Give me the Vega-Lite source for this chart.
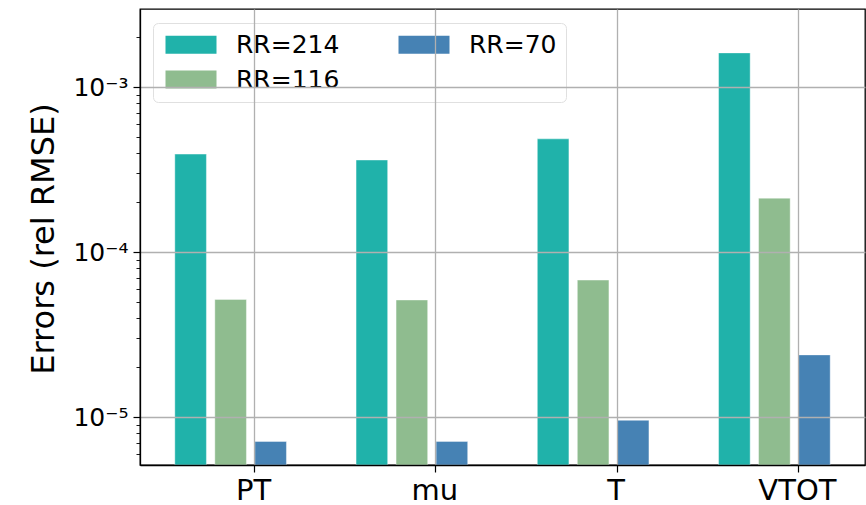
{
  "$schema": "https://vega.github.io/schema/vega-lite/v6.json",
  "autosize": {"type": "none"},
  "width": 725,
  "height": 456,
  "padding": {"left": 140, "top": 9, "right": 1, "bottom": 40},
  "background": "white",
  "config": {
    "font": "DejaVu Sans",
    "view": {"stroke": "#000000", "strokeWidth": 1.3}
  },
  "data": {
    "values": [
      {"var": "PT", "rr": "RR=214", "err": 0.000392},
      {"var": "PT", "rr": "RR=116", "err": 0.0000516},
      {"var": "PT", "rr": "RR=70", "err": 0.00000711},
      {"var": "mu", "rr": "RR=214", "err": 0.000361},
      {"var": "mu", "rr": "RR=116", "err": 0.0000512},
      {"var": "mu", "rr": "RR=70", "err": 0.00000711},
      {"var": "T", "rr": "RR=214", "err": 0.000485},
      {"var": "T", "rr": "RR=116", "err": 0.0000676},
      {"var": "T", "rr": "RR=70", "err": 0.00000955},
      {"var": "VTOT", "rr": "RR=214", "err": 0.00161},
      {"var": "VTOT", "rr": "RR=116", "err": 0.000212},
      {"var": "VTOT", "rr": "RR=70", "err": 0.0000238}
    ]
  },
  "mark": {"type": "bar", "stroke": "white", "strokeWidth": 0.8, "strokeOpacity": 0.5},
  "encoding": {
    "x": {
      "field": "var",
      "type": "nominal",
      "sort": ["PT", "mu", "T", "VTOT"],
      "scale": {"paddingInner": 0, "paddingOuter": 0},
      "axis": {
        "title": null,
        "labelAngle": 0,
        "labelFontSize": 29,
        "labelColor": "#000000",
        "labelPadding": 4,
        "labelOffset": 23,
        "bandPosition": 0.633,
        "tickSize": 7,
        "tickWidth": 1.2,
        "tickColor": "#000000",
        "domainColor": "#000000",
        "domainWidth": 1.3,
        "grid": true,
        "gridColor": "#b0b0b0",
        "gridWidth": 1.3,
        "zindex": 1
      }
    },
    "xOffset": {
      "field": "rr",
      "type": "nominal",
      "scale": {"domain": ["RR=214", "RR=116", "RR=70"], "paddingInner": 0.21, "paddingOuter": 0.87}
    },
    "y": {
      "field": "err",
      "type": "quantitative",
      "stack": null,
      "scale": {"type": "log", "domain": [0.00000512, 0.00297], "nice": false},
      "axis": {
        "title": "Errors (rel RMSE)",
        "titleFontSize": 32,
        "titleFontWeight": "normal",
        "titleColor": "#000000",
        "titleAngle": -90,
        "titleX": -87,
        "titleY": 229.5,
        "titleAlign": "center",
        "titleBaseline": "alphabetic",
        "values": [0.000006, 0.000007, 0.000008, 0.000009, 0.00001, 0.00002, 0.00003, 0.00004, 0.00005, 0.00006, 0.00007, 0.00008, 0.00009, 0.0001, 0.0002, 0.0003, 0.0004, 0.0005, 0.0006, 0.0007, 0.0008, 0.0009, 0.001, 0.002],
        "labelExpr": "datum.value == 0.001 ? '10⁻³' : datum.value == 0.0001 ? '10⁻⁴' : datum.value == 0.00001 ? '10⁻⁵' : ''",
        "labelFontSize": 25,
        "labelColor": "#000000",
        "labelPadding": 5,
        "tickColor": "#000000",
        "tickSize": {"condition": {"test": "datum.value == 0.001 || datum.value == 0.0001 || datum.value == 0.00001", "value": 7}, "value": 4},
        "tickWidth": {"condition": {"test": "datum.value == 0.001 || datum.value == 0.0001 || datum.value == 0.00001", "value": 1.2}, "value": 0.9},
        "domainColor": "#000000",
        "domainWidth": 1.3,
        "grid": true,
        "gridColor": "#b0b0b0",
        "gridWidth": 1.3,
        "gridOpacity": {"condition": {"test": "datum.value == 0.001 || datum.value == 0.0001 || datum.value == 0.00001", "value": 1}, "value": 0},
        "zindex": 1
      }
    },
    "y2": {"datum": 0.00000512},
    "color": {
      "field": "rr",
      "type": "nominal",
      "scale": {"domain": ["RR=214", "RR=116", "RR=70"], "range": ["#20b2aa", "#8fbc8f", "#4682b4"]},
      "legend": {
        "title": null,
        "orient": "none",
        "legendX": 13,
        "legendY": 14,
        "columns": 2,
        "symbolType": "M-1,-1L4.667,-1L4.667,1L-1,1Z",
        "symbolSize": 324,
        "symbolStrokeWidth": 0,
        "symbolOpacity": 1,
        "labelFontSize": 25,
        "labelColor": "#000000",
        "labelOffset": 49,
        "labelLimit": 400,
        "columnPadding": 55,
        "rowPadding": 9,
        "padding": 9,
        "fillColor": "rgba(255,255,255,0.3)",
        "strokeColor": "#e0e0e0",
        "cornerRadius": 5
      }
    }
  }
}
